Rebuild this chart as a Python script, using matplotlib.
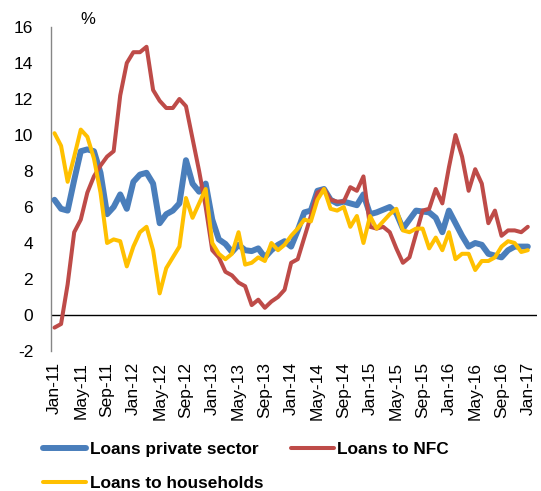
import matplotlib
matplotlib.use("Agg")
import matplotlib.pyplot as plt
import numpy as np

plt.rcParams['font.family'] = ['Liberation Sans', 'DejaVu Sans']
plt.rcParams['axes.unicode_minus'] = False

months = ['Jan', 'Feb', 'Mar', 'Apr', 'May', 'Jun', 'Jul', 'Aug', 'Sep', 'Oct', 'Nov', 'Dec']
dates = [f"{months[m]}-{11 + y}" for y in range(7) for m in range(12)][:73]

private_sector = [6.4, 5.9, 5.8, 7.5, 9.1, 9.2, 9.1, 7.9, 5.6, 6.0, 6.7, 5.9, 7.4, 7.8, 7.9, 7.3, 5.1, 5.6, 5.8, 6.2, 8.6,
                  7.3, 6.85, 7.3, 5.3, 4.2, 3.95, 3.5, 3.9, 3.6, 3.55, 3.7, 3.2, 3.6, 3.9, 4.1, 3.8, 4.7, 5.7, 5.8, 6.9, 7.0,
                  6.4, 6.2, 6.3, 6.2, 6.1, 6.7, 5.6, 5.7, 5.85, 6.0, 5.65, 4.8, 5.3, 5.8, 5.75, 5.7, 5.4, 4.6, 5.8,
                  5.1, 4.4, 3.8, 4.0, 3.9, 3.4, 3.3, 3.2, 3.6, 3.8, 3.8, 3.8]
nfc = [-0.7, -0.5, 1.7, 4.6, 5.3, 6.8, 7.7, 8.3, 8.8, 9.1, 12.2, 14.0, 14.6, 14.6, 14.9, 12.5, 11.9, 11.5, 11.5, 12.0, 11.6,
       9.8, 8.0, 6.0, 3.6, 3.2, 2.4, 2.2, 1.8, 1.6, 0.55, 0.85, 0.4, 0.75, 1.0, 1.4, 2.9, 3.1, 4.3, 5.5, 6.8, 7.0,
       6.4, 6.3, 6.3, 7.1, 6.9, 7.7, 4.9, 4.8, 4.9, 4.6, 3.7, 2.9, 3.2, 4.5, 5.8, 5.9, 7.0, 6.2, 8.2,
       10.0, 8.8, 6.9, 8.1, 7.3, 5.1, 5.8, 4.4, 4.7, 4.7, 4.6, 4.9]
households = [10.1, 9.4, 7.4, 8.8, 10.3, 9.9, 8.7, 6.8, 4.0, 4.2, 4.1, 2.7, 3.8, 4.6, 4.9, 3.6, 1.2, 2.6, 3.2, 3.8, 6.5,
              5.4, 6.2, 7.0, 4.0, 3.4, 3.1, 3.4, 4.6, 2.8, 2.9, 3.2, 3.0, 4.0, 3.6, 3.9, 4.4, 4.8, 5.3, 5.2, 6.4,
              7.0, 5.9, 5.8, 6.0, 4.9, 5.5, 4.0, 5.5, 4.8, 5.2, 5.6, 5.9, 4.7, 4.6, 4.8, 4.8, 3.7, 4.3, 3.6, 4.6,
              3.1, 3.4, 3.4, 2.5, 3.0, 3.0, 3.2, 3.8, 4.1, 4.0, 3.5, 3.6]

labels = ['Loans private sector', 'Loans to NFC', 'Loans to households']
colors = ['#4A7EBB', '#BE4B48', '#FFC000']
yticks = list(range(-2, 17, 2))

W, H = 541, 491
fig = plt.figure(figsize=(W / 100, H / 100), dpi=100)
ax = fig.add_axes([51.2 / W, 1 - 351 / H, (537 - 51.2) / W, (351 - 27) / H])

x = np.arange(len(dates))
lb, = ax.plot(x, private_sector, color=colors[0], lw=4.3, solid_capstyle='round', solid_joinstyle='round', zorder=3)
lr, = ax.plot(x, nfc, color=colors[1], lw=2.9, solid_capstyle='round', solid_joinstyle='round', zorder=4)
ly, = ax.plot(x, households, color=colors[2], lw=2.9, solid_capstyle='round', solid_joinstyle='round', zorder=5)

ax.set_xlim(-0.5, 73.4)
ax.set_ylim(-2, 16)
ax.set_yticks(yticks)
ax.set_yticklabels([str(v) for v in yticks])
ax.set_xticks(x[::4])
ax.set_xticklabels(dates[::4], rotation=90)
ax.tick_params(axis='y', length=0, pad=13, labelsize=12.5)
ax.tick_params(axis='x', length=0, pad=8, labelsize=12.5)

for s in ['top', 'right', 'bottom']:
    ax.spines[s].set_visible(False)
ax.spines['left'].set_color('#868686')
ax.spines['left'].set_linewidth(1.0)
ax.axhline(0, color='black', lw=1.0, zorder=2)

fig.text(88 / W, 1 - 20 / H, '%', fontsize=12, ha='center', va='center')

leg = fig.legend([lb, ly, lr], [labels[0], labels[2], labels[1]], ncol=2, loc='upper left',
                 bbox_to_anchor=(43 / W, 1 - 442 / H), frameon=False, borderpad=0, borderaxespad=0,
                 handlelength=2.5, handletextpad=0.2, columnspacing=1.6, labelspacing=1.1,
                 prop={'weight': 'bold', 'size': 12.4})

fig.savefig('out.png', dpi=100)
